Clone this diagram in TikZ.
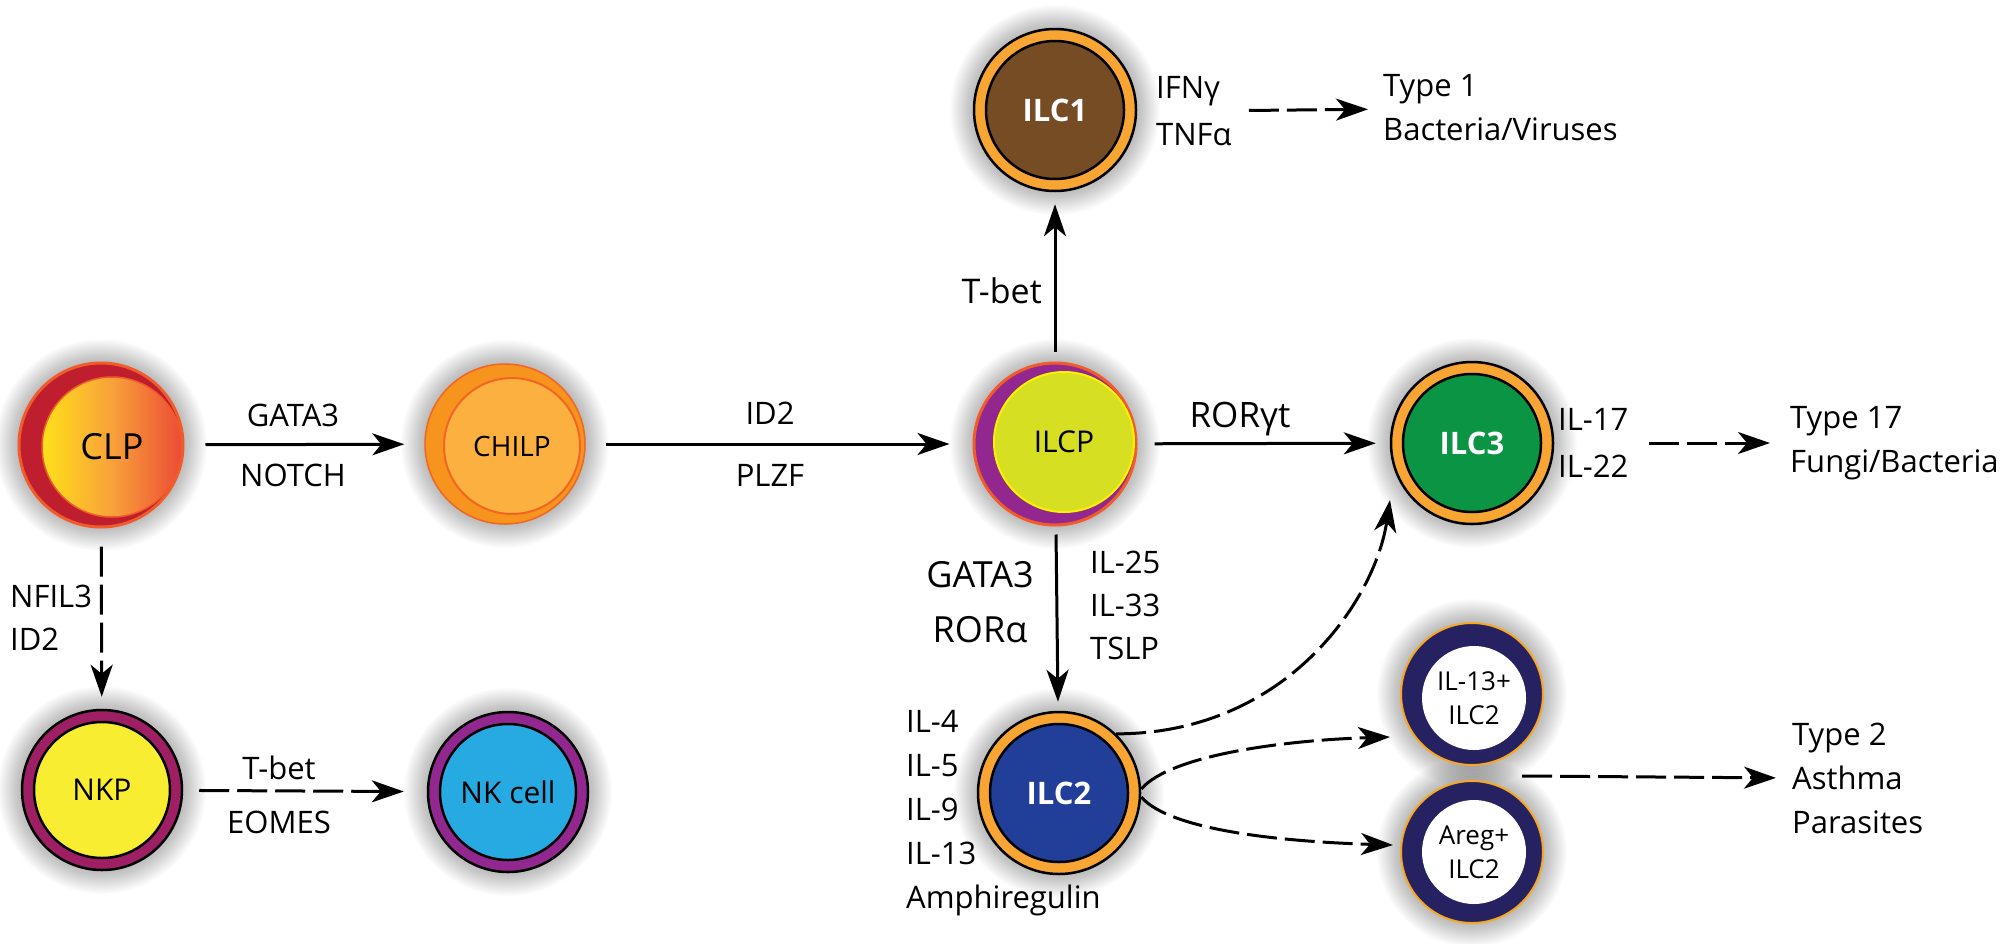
\documentclass[tikz,border=0pt]{standalone}
\usepackage{fontspec}
\setmainfont{Open Sans}
\usetikzlibrary{arrows.meta,calc}
\definecolor{clpred}{HTML}{BE1E2D}
\definecolor{clpline}{HTML}{F15A29}
\definecolor{clpyel}{HTML}{FFE01A}
\definecolor{clpmid}{HTML}{F8A13A}
\definecolor{clpright}{HTML}{EC4B36}
\definecolor{chilpout}{HTML}{F7941D}
\definecolor{chilpin}{HTML}{FBB040}
\definecolor{chilpline}{HTML}{F26522}
\definecolor{ilcppurple}{HTML}{92278F}
\definecolor{ilcpin}{HTML}{D7DF23}
\definecolor{ilcpinline}{HTML}{FFF200}
\definecolor{ringor}{HTML}{F9A533}
\definecolor{ilconebrown}{HTML}{754C24}
\definecolor{ilctwoblue}{HTML}{213F99}
\definecolor{ilcthreegreen}{HTML}{0B9444}
\definecolor{nkpring}{HTML}{9E1F63}
\definecolor{nkpin}{HTML}{F9ED32}
\definecolor{nkring}{HTML}{92278F}
\definecolor{nkin}{HTML}{27AAE1}
\definecolor{navyring}{HTML}{262262}
\definecolor{thinor}{HTML}{F7A823}
\newcommand\cellglow[2]{\foreach \k in {1,...,14}{\fill[black,opacity=0.018] (#1) circle[radius=#2pt+\k*1.7pt];}}
\begin{document}
\begin{tikzpicture}[x=1pt,y=-1pt,
  txt/.style={inner sep=0pt, font=\fontsize{31}{44}\selectfont},
  arr/.style={line width=3pt, -{Stealth[length=32pt,width=22pt,inset=9pt]}},
  darr/.style={arr, dash pattern=on 30pt off 8pt},
  ilcring/.style={circle,inner sep=0pt,minimum size=162pt,fill=ringor,draw=black,line width=2.5pt},
  ilccore/.style={circle,inner sep=0pt,minimum size=138pt,draw=black,line width=2.5pt,text=white,font=\fontsize{31}{31}\bfseries\selectfont},
  nkring/.style={circle,inner sep=0pt,minimum size=160pt,draw=black,line width=2.5pt},
  nkcore/.style={circle,inner sep=0pt,minimum size=136pt,draw=black,line width=2.5pt,font=\fontsize{30}{30}\selectfont},
  subring/.style={circle,inner sep=0pt,minimum size=142pt,fill=navyring,draw=thinor,line width=2pt},
  subcore/.style={circle,inner sep=0pt,minimum size=104pt,fill=white,align=center,font=\fontsize{26}{34}\selectfont}
]
\useasboundingbox (0,0) rectangle (2008,943);
\fill[white] (0,0) rectangle (2008,943);

% soft shadows
\cellglow{101,445}{82}
\cellglow{505,444}{80}
\cellglow{1055,444}{81}
\cellglow{1055,110}{81}
\cellglow{1472,443}{81}
\cellglow{1059,793}{81}
\cellglow{102,790}{80}
\cellglow{508,792}{80}
\cellglow{1472,694}{71}
\cellglow{1472,852}{71}

% CLP
\node[circle,inner sep=0pt,minimum size=164pt,fill=clpred,draw=clpline,line width=3pt] (clp) at (101,445) {};
\node[circle,inner sep=0pt,minimum size=140pt,left color=clpyel,right color=clpright,middle color=clpmid,draw=clpline,line width=1.5pt,font=\fontsize{36}{40}\selectfont] (clpin) at (112,447) {CLP};
% CHILP
\node[circle,inner sep=0pt,minimum size=160pt,fill=chilpout,draw=chilpline,line width=1.5pt] (chilp) at (505,444) {};
\node[circle,inner sep=0pt,minimum size=136pt,fill=chilpin,draw=chilpline,line width=2pt,font=\fontsize{28}{30}\selectfont] (chilpin) at (512,446) {CHILP};
% ILCP
\node[circle,inner sep=0pt,minimum size=162pt,fill=ilcppurple,draw=clpline,line width=3pt] (ilcp) at (1055,444) {};
\node[circle,inner sep=0pt,minimum size=140pt,fill=ilcpin,draw=ilcpinline,line width=2pt,font=\fontsize{30}{30}\selectfont] (ilcpin) at (1064,442) {ILCP};
% ILC1, ILC2, ILC3
\node[ilcring] (ilc1) at (1055,110) {};
\node[ilccore,fill=ilconebrown] (ilc1in) at (1055,110) {ILC1};
\node[ilcring] (ilc3) at (1472,443) {};
\node[ilccore,fill=ilcthreegreen] (ilc3in) at (1472,443) {ILC3};
\node[ilcring] (ilc2) at (1059,793) {};
\node[ilccore,fill=ilctwoblue] (ilc2in) at (1059,793) {ILC2};
% NKP, NK cell
\node[nkring,fill=nkpring] (nkp) at (102,790) {};
\node[nkcore,fill=nkpin] (nkpin) at (102,790) {NKP};
\node[nkring,fill=nkring] (nk) at (508,792) {};
\node[nkcore,fill=nkin] (nkin) at (508,792) {NK cell};
% ILC2 subsets
\node[subring] (il13) at (1472,694) {};
\node[subcore] (il13in) at (1474,698) {IL-13+\\ILC2};
\node[subring] (areg) at (1472,852) {};
\node[subcore] (aregin) at (1474,852) {Areg+\\ILC2};

% labels
\node[txt] (gataA) at (293,415) {GATA3};
\node[txt] (notch) at (293,475) {NOTCH};
\node[txt] (idtwo) at (770,413) {ID2};
\node[txt] (plzf) at (770,475) {PLZF};
\node[txt,font=\fontsize{34}{40}\selectfont,anchor=east] (tbetA) at (1042,291) {T-bet};
\node[txt,font=\fontsize{35}{40}\selectfont] (rorgt) at (1240,419) {RORγt};
\node[txt,font=\fontsize{36}{55}\selectfont,align=center] (gataB) at (980,602) {GATA3\\RORα};
\node[txt,font=\fontsize{31}{43}\selectfont,align=left,anchor=west] (ilcyt) at (1090,605) {IL-25\\IL-33\\TSLP};
\node[txt,align=left,anchor=west] (iltwocyt) at (906,813) {IL-4\\IL-5\\IL-9\\IL-13\\Amphiregulin};
\node[txt,font=\fontsize{31}{47}\selectfont,align=left,anchor=west] (ilonecyt) at (1156,111) {IFNγ\\TNFα};
\node[txt,align=left,anchor=west] (typeone) at (1383,108) {Type 1\\Bacteria/Viruses};
\node[txt,font=\fontsize{31}{47}\selectfont,align=left,anchor=west] (ilthreecyt) at (1558,443) {IL-17\\IL-22};
\node[txt,align=left,anchor=west] (typeseventeen) at (1790,443) {Type 17\\Fungi/Bacteria};
\node[txt,align=left,anchor=west] (typetwo) at (1792,778) {Type 2\\Asthma\\Parasites};
\node[txt,font=\fontsize{31}{43}\selectfont,align=left,anchor=west] (nfil) at (10,618) {NFIL3\\ID2};
\node[txt] (tbetB) at (279,768) {T-bet};
\node[txt] (eomes) at (279,822) {EOMES};

% solid arrows
\draw[arr,shorten <=21pt,shorten >=20pt] (clp) -- (chilp);
\draw[arr,shorten <=20pt,shorten >=23pt] (chilp) -- (ilcp);
\draw[arr,shorten <=10pt,shorten >=12pt] (ilcp) -- (ilc1);
\draw[arr,shorten <=17pt,shorten >=14pt] (ilcp) -- (ilc3);
\draw[arr,shorten <=8pt,shorten >=9pt] (ilcp) -- (ilc2);
% dashed arrows
\draw[darr,shorten <=18pt,shorten >=12pt] (clp) -- (nkp);
\draw[darr,shorten <=16pt,shorten >=23pt] (nkp) -- (nk);
\draw[darr,shorten <=17pt,shorten >=15pt] (ilonecyt) -- (typeone);
\draw[darr,shorten <=20pt,shorten >=20pt] (ilthreecyt) -- (typeseventeen);
\draw[darr,shorten >=16pt] ($(il13)!0.5!(areg)+(50,3)$) -- (typetwo.west);
\draw[darr] (ilc2.46) .. controls +(170,0) and +(-15,100) .. ($(ilc3)+(-82,57)$);
\draw[darr] ($(ilc2.east)+(0,-4)$) .. controls +(30,-35) and +(-100,3) .. ($(il13)+(-82,43)$);
\draw[darr] ($(ilc2.east)+(0,4)$) .. controls +(30,35) and +(-100,-3) .. ($(areg)+(-79,-7)$);
\end{tikzpicture}
\end{document}
